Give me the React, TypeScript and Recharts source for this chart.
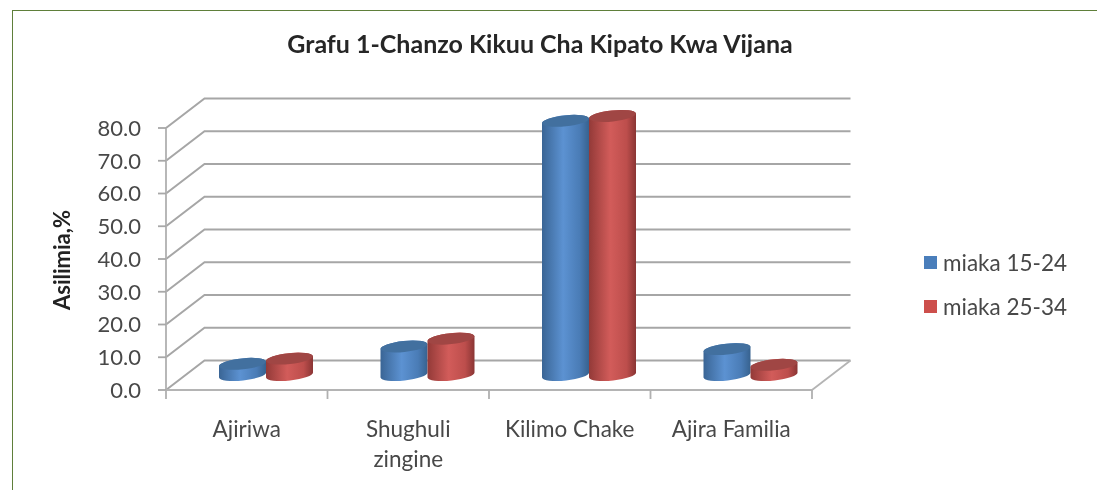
import { BarChart, Bar, XAxis, YAxis, CartesianGrid, Legend } from 'recharts'

const categories = ['Ajiriwa', 'Shughuli zingine', 'Kilimo Chake', 'Ajira Familia']
const youngValues = [3.4, 8.7, 77.6, 7.9]
const olderValues = [5.0, 11.1, 79.1, 3.1]
const yTicks = [0, 10, 20, 30, 40, 50, 60, 70, 80]

const data = categories.map((name, i) => ({
  name,
  young: youngValues[i],
  older: olderValues[i],
}))

const FONT = 'Lato, sans-serif'
const WALL_DX = 38.5
const WALL_DY = -29.5
const BAR_DX = 19
const BAR_DY = -15
const RY = 5.5
const TILT = -6
const LEAN = 2.5

// back wall gridline: front tick -> back corner -> right end
const renderGridLine = (props: any) => {
  const { x1, y1, x2, y2, index } = props
  const isFloor = y1 > 385
  return (
    <g key={`wall-${index}`}>
      <path
        d={`M${x1},${y1} L${x1 + WALL_DX},${y1 + WALL_DY} L${x2 + WALL_DX},${y2 + WALL_DY}`}
        fill='none'
        stroke='#a6a6a6'
        strokeWidth={2}
      />
      {isFloor && (
        <path
          d={`M${x2},${y2} L${x2 + WALL_DX},${y2 + WALL_DY}`}
          fill='none'
          stroke='#b4b4b4'
          strokeWidth={1.8}
        />
      )}
    </g>
  )
}

const Cylinder = (props: any) => {
  const { x, y, width, height, side, top } = props
  const rx = width / 2
  const cx = x + rx + BAR_DX
  const ty = y + BAR_DY
  const by = y + height + BAR_DY
  const body = [
    `M${cx - rx},${ty + LEAN}`,
    `L${cx - rx},${by + LEAN}`,
    `A${rx},${RY} ${TILT} 0 0 ${cx + rx},${by - LEAN}`,
    `L${cx + rx},${ty - LEAN}`,
    `A${rx},${RY} ${TILT} 0 0 ${cx - rx},${ty + LEAN}`,
    'Z',
  ].join(' ')
  return (
    <g>
      <path d={body} fill={`url(#${side})`} />
      <ellipse cx={cx} cy={ty} rx={rx} ry={RY} fill={top} transform={`rotate(${TILT} ${cx} ${ty})`} />
    </g>
  )
}

const CategoryTick = (props: any) => {
  const { x, payload, index } = props
  const band = 161.5
  const lines = payload.value.length > 14 ? payload.value.split(' ') : [payload.value]
  return (
    <g>
      <line x1={x - band / 2} x2={x - band / 2} y1={390} y2={399} stroke='#b0b0b0' strokeWidth={1.8} />
      {index === categories.length - 1 && (
        <line x1={x + band / 2} x2={x + band / 2} y1={390} y2={399} stroke='#b0b0b0' strokeWidth={1.8} />
      )}
      <text textAnchor='middle' fontFamily={FONT} fontSize={22.5} fill='#484848'>
        {lines.map((line: string, i: number) => (
          <tspan key={line} x={x} y={437 + i * 30}>
            {line}
          </tspan>
        ))}
      </text>
    </g>
  )
}

const legendItems = [
  { label: 'miaka 15-24', color: '#4a7ebb' },
  { label: 'miaka 25-34', color: '#cd4f4c' },
]

const ChartLegend = () => (
  <div style={{ fontFamily: FONT, fontSize: 22.5, color: '#484848' }}>
    {legendItems.map((item) => (
      <div key={item.label} style={{ display: 'flex', alignItems: 'center', height: 44 }}>
        <span style={{ width: 13, height: 13, background: item.color, marginRight: 6 }} />
        {item.label}
      </div>
    ))}
  </div>
)

export default function App() {
  return (
    <div style={{ position: 'absolute', left: 0, top: 0, width: 1097, height: 490, background: '#fff', overflow: 'hidden' }}>
      <div style={{ filter: 'blur(0.7px)', width: 1097, height: 490, position: 'relative' }}>
        <div style={{ position: 'absolute', left: 12, top: 10, right: -5, bottom: -5, borderLeft: '1.5px solid #5f7f3a', borderTop: '1.5px solid #5f7f3a' }} />
        <div style={{ position: 'absolute', left: 240, top: 28, width: 600, textAlign: 'center', fontFamily: FONT, fontWeight: 700, fontSize: 25, color: '#262626', whiteSpace: 'nowrap' }}>
          Grafu 1-Chanzo Kikuu Cha Kipato Kwa Vijana
        </div>
        <BarChart
          width={1097}
          height={490}
          data={data}
          margin={{ top: 128, right: 125, bottom: 0, left: 0 }}
          barCategoryGap={34}
          barGap={0}
          style={{ position: 'absolute', left: 0, top: 0 }}
        >
          <defs>
            <linearGradient id='blueBody' x1='0' x2='1' y1='0' y2='0'>
              <stop offset='0' stopColor='#3a6595' />
              <stop offset='0.45' stopColor='#5c92d2' />
              <stop offset='0.8' stopColor='#4a7cb6' />
              <stop offset='1' stopColor='#37628f' />
            </linearGradient>
            <linearGradient id='redBody' x1='0' x2='1' y1='0' y2='0'>
              <stop offset='0' stopColor='#933a38' />
              <stop offset='0.45' stopColor='#d25c5a' />
              <stop offset='0.8' stopColor='#bd4e4c' />
              <stop offset='1' stopColor='#8a3534' />
            </linearGradient>
          </defs>
          <CartesianGrid vertical={false} horizontal={renderGridLine} />
          <XAxis
            dataKey='name'
            height={100}
            interval={0}
            axisLine={{ stroke: '#b4b4b4', strokeWidth: 2 }}
            tickLine={false}
            tick={<CategoryTick />}
          />
          <YAxis
            domain={[0, 80]}
            ticks={yTicks}
            interval={0}
            width={166}
            tickFormatter={(v: number) => v.toFixed(1)}
            axisLine={{ stroke: '#b0b0b0', strokeWidth: 1.8 }}
            tickLine={{ stroke: '#a8a8a8', strokeWidth: 1.8 }}
            tickSize={8}
            tickMargin={17}
            tick={{ fontFamily: FONT, fontSize: 22, fill: '#484848' }}
            label={{
              value: 'Asilimia,%',
              angle: -90,
              position: { x: 70, y: 132 },
              style: { fontFamily: FONT, fontSize: 22, fontWeight: 700, fill: '#222', textAnchor: 'middle' },
            }}
          />
          <Bar dataKey='young' name='miaka 15-24' isAnimationActive={false} shape={<Cylinder side='blueBody' top='#42709f' />} />
          <Bar dataKey='older' name='miaka 25-34' isAnimationActive={false} shape={<Cylinder side='redBody' top='#a04644' />} />
          <Legend
            layout='vertical'
            align='right'
            verticalAlign='middle'
            content={<ChartLegend />}
            wrapperStyle={{ position: 'absolute', left: 924, top: 240, width: 160, bottom: 'auto', right: 'auto' }}
          />
        </BarChart>
      </div>
    </div>
  )
}
